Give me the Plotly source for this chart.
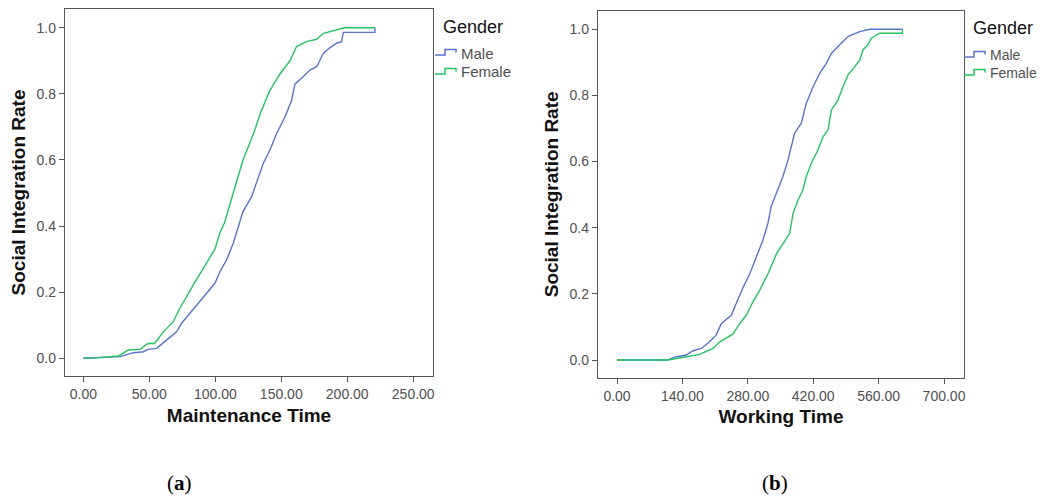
import plotly.graph_objects as go

# ---- Panel (a): Maintenance Time ----
a_male_x = [0, 27.8, 38, 45.5, 49, 55.6, 63, 70.7, 74.5, 83, 93.4, 99.7, 103.5, 108.6, 113.6, 117.4,
            121, 127.5, 131.3, 136.4, 141.4, 146.5, 152.8, 157.8, 160.4, 165.4, 171.7, 176.8, 182,
            187, 192, 195.7, 197, 221, 221]
a_male_y = [0, 0.005, 0.017, 0.02, 0.027, 0.03, 0.055, 0.08, 0.106, 0.146, 0.197, 0.227, 0.262, 0.298,
            0.348, 0.398, 0.444, 0.489, 0.53, 0.59, 0.63, 0.68, 0.73, 0.78, 0.83, 0.847, 0.872, 0.882,
            0.923, 0.94, 0.953, 0.958, 0.986, 0.986, 1.0]
a_female_x = [0, 12, 26.5, 34, 43, 49, 54, 60.6, 68, 73, 83, 93.4, 99.7, 103.5, 107, 113.6, 117.4, 121,
              129, 135, 141.4, 149, 156.6, 161.6, 169, 176.8, 182, 189, 198, 221]
a_female_y = [0, 0.002, 0.007, 0.025, 0.027, 0.045, 0.045, 0.08, 0.11, 0.15, 0.22, 0.29, 0.33, 0.38,
              0.41, 0.50, 0.55, 0.60, 0.68, 0.75, 0.81, 0.86, 0.90, 0.943, 0.958, 0.965, 0.983, 0.99,
              1.0, 1.0]

# ---- Panel (b): Working Time ----
b_male_x = [0, 109, 127, 148, 163, 180.5, 198, 212.6, 223, 245, 252, 270, 284, 298, 312.5, 323, 330,
            341, 355, 366, 373, 380, 394.6, 405, 420, 434, 448, 459, 476.7, 494.5, 519.5, 541, 611]
b_male_y = [0, 0, 0.01, 0.015, 0.028, 0.035, 0.055, 0.076, 0.11, 0.136, 0.16, 0.22, 0.26, 0.31, 0.363,
            0.413, 0.464, 0.504, 0.554, 0.605, 0.645, 0.685, 0.716, 0.776, 0.827, 0.867, 0.897, 0.927,
            0.953, 0.978, 0.993, 1.0, 1.0]
b_female_x = [0, 109, 148, 177, 205.5, 220, 248, 262.6, 277, 291, 305, 323, 341, 355, 369.6, 377, 387.5,
              398, 405, 416, 430, 441, 451.7, 459, 473, 484, 494.5, 509, 519.5, 526.6, 537, 544.5, 562,
              611, 611]
b_female_y = [0, 0, 0.01, 0.017, 0.035, 0.055, 0.078, 0.11, 0.136, 0.176, 0.21, 0.26, 0.32, 0.35, 0.383,
              0.444, 0.484, 0.514, 0.554, 0.595, 0.635, 0.675, 0.696, 0.756, 0.786, 0.827, 0.862, 0.887,
              0.907, 0.9375, 0.953, 0.973, 0.988, 0.988, 1.0]

a_xticks = [0, 50, 100, 150, 200, 250]
b_xticks = [0, 140, 280, 420, 560, 700]
y_ticks = [0.0, 0.2, 0.4, 0.6, 0.8, 1.0]
series_names = ["Male", "Female"]
legend_title = "Gender"
captions = ["a", "b"]

MALE_C = "#5a74ca"
FEMALE_C = "#25c462"
COLORS = [MALE_C, FEMALE_C]
OFF = 8                      # page body margin in the browser
W, H = 1045 - OFF, 497 - OFF  # figure size
FONT = "Liberation Sans, Arial"

def px(x):
    return (x - OFF) / W

def py(y):
    return 1 - (y - OFF) / H

fig = go.Figure()
for xs, ys, c, n in [(a_male_x, a_male_y, MALE_C, series_names[0]),
                     (a_female_x, a_female_y, FEMALE_C, series_names[1])]:
    fig.add_trace(go.Scatter(x=xs, y=ys, mode="lines", name=n, showlegend=False,
                             line=dict(color=c, width=1.4), xaxis="x", yaxis="y"))
for xs, ys, c, n in [(b_male_x, b_male_y, MALE_C, series_names[0]),
                     (b_female_x, b_female_y, FEMALE_C, series_names[1])]:
    fig.add_trace(go.Scatter(x=xs, y=ys, mode="lines", name=n, showlegend=False,
                             line=dict(color=c, width=1.4), xaxis="x2", yaxis="y2"))

tickfont = dict(family=FONT, size=14, color="#505050")
titlefont = dict(family=FONT, size=19, color="#111111")

def xax(domain, rng, ticks, title, anchor):
    return dict(domain=domain, range=rng, tickvals=ticks, ticktext=[f"{t:.2f}" for t in ticks],
                showgrid=False, zeroline=False, showline=True, linecolor="#555555", linewidth=1.3,
                mirror=True, ticks="outside", ticklen=5, tickcolor="#555555", tickfont=tickfont,
                automargin=False,
                title=dict(text=f"<b>{title}</b>", font=titlefont, standoff=7), anchor=anchor)

def yax(domain, rng, anchor):
    return dict(domain=domain, range=rng, tickvals=y_ticks, ticktext=[f"{t:.1f}" for t in y_ticks],
                showgrid=False, zeroline=False, showline=True, linecolor="#555555", linewidth=1.3,
                mirror=True, ticks="outside", ticklen=5, tickcolor="#555555", tickfont=tickfont,
                automargin=False,
                title=dict(text="<b>Social Integration Rate</b>", font=titlefont, standoff=5),
                anchor=anchor)

# manual legends (title, step icons, labels) in page-pixel positions
shapes = []
annotations = []
for gx, gy, tx, ys, fs in [(441, 27, 459, [53, 72], 15), (971, 28, 988, [55, 73], 14)]:
    annotations.append(dict(text=legend_title, x=px(gx), y=py(gy), xref="paper", yref="paper",
                            xanchor="left", yanchor="middle", showarrow=False,
                            font=dict(family=FONT, size=18, color="#111111")))
    for name, c, cy in zip(series_names, COLORS, ys):
        annotations.append(dict(text=name, x=px(tx), y=py(cy), xref="paper", yref="paper",
                                xanchor="left", yanchor="middle", showarrow=False,
                                font=dict(family=FONT, size=fs, color="#505050")))
        pts = [(tx - 24, cy + 2), (tx - 14, cy + 2), (tx - 14, cy - 3.5), (tx - 3, cy - 3.5),
               (tx - 3, cy - 0.5)]
        path = "M " + " L ".join(f"{px(x):.5f},{py(y):.5f}" for x, y in pts)
        shapes.append(dict(type="path", path=path, xref="paper", yref="paper",
                           line=dict(color=c, width=1.5)))

for cap, cx in zip(captions, [179, 775]):
    annotations.append(dict(text=f"(<b>{cap}</b>)", x=px(cx), y=py(483), xref="paper", yref="paper",
                            xanchor="center", yanchor="middle", showarrow=False,
                            font=dict(family="Liberation Serif, Times New Roman", size=21,
                                      color="black")))

fig.update_layout(
    width=W, height=H,
    margin=dict(l=0, r=0, t=0, b=0),
    paper_bgcolor="white", plot_bgcolor="white",
    xaxis=xax([px(65), px(433)], [-13.9, 265], a_xticks, "Maintenance Time", "y"),
    yaxis=yax([py(376), py(9)], [-0.0535, 1.0566], "x"),
    xaxis2=xax([px(598), px(964)], [-40.7, 742.8], b_xticks, "Working Time", "y2"),
    yaxis2=yax([py(377.7), py(11)], [-0.0535, 1.0553], "x2"),
    showlegend=False,
    shapes=shapes,
    annotations=annotations,
)

fig.write_html("out.html")
